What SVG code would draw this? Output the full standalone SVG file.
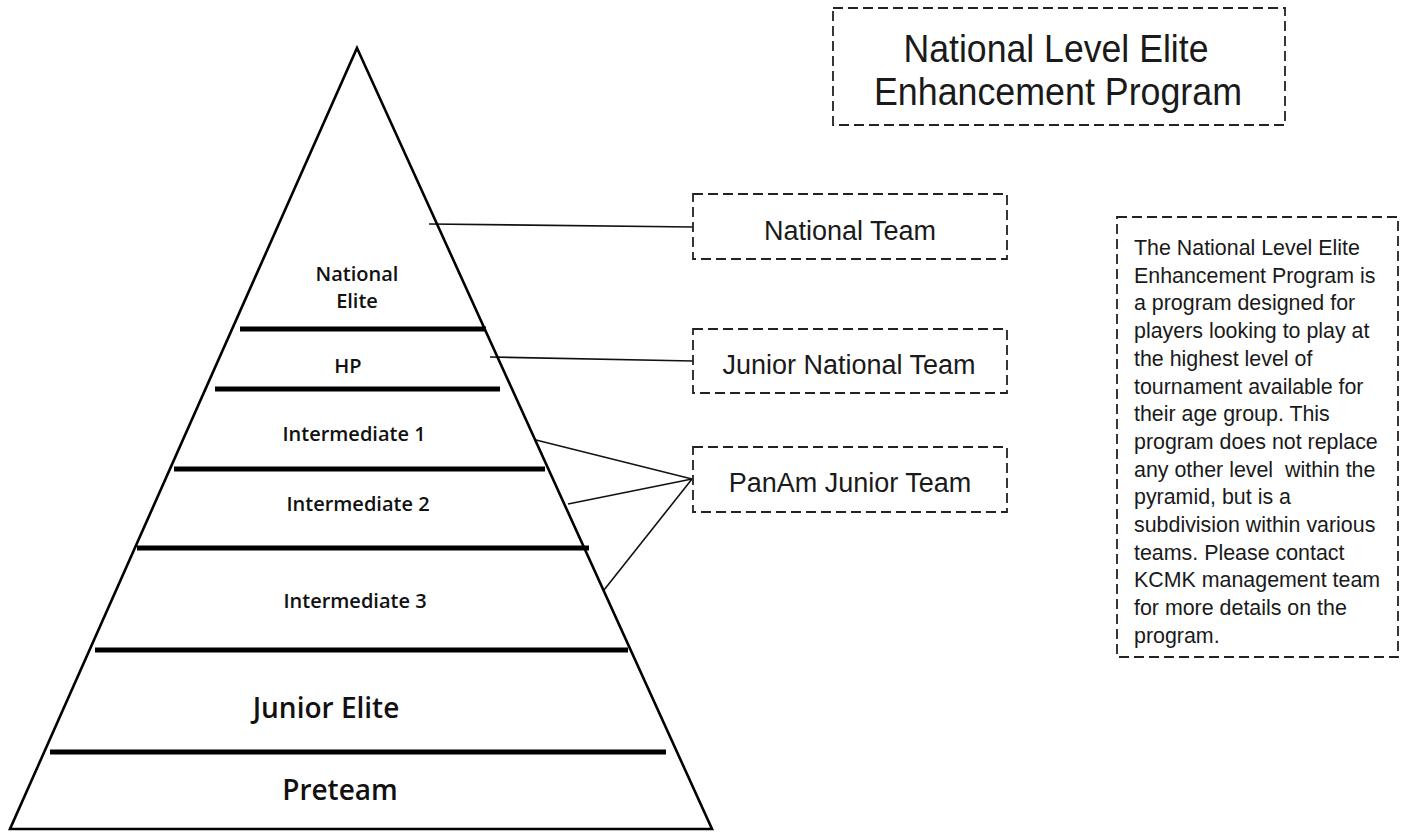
<svg xmlns="http://www.w3.org/2000/svg" width="1407" height="833" viewBox="0 0 1407 833">
<style>
.bg{fill:#fff}
.pyr{fill:none;stroke:#000;stroke-width:2.6;stroke-linejoin:miter}
.tier{stroke:#000;stroke-width:5;stroke-linecap:butt}
.conn{stroke:#111;stroke-width:1.6;fill:none}
.box{fill:#fff;stroke:#222;stroke-width:1.8;stroke-dasharray:10 5}
.lbl{font-family:"Open Sans","Noto Sans",sans-serif;font-weight:600;fill:#111;text-anchor:middle}
.box-t{font-family:"Liberation Sans",Arial,sans-serif;fill:#1a1a1a;text-anchor:middle}
.desc{font-family:"Liberation Sans",Arial,sans-serif;fill:#1a1a1a;font-size:21.4px}
</style>
<rect class="bg" x="0" y="0" width="1407" height="833"/>
<g id="connectors">
<line class="conn" x1="429" y1="224" x2="693" y2="227"/>
<line class="conn" x1="490" y1="357" x2="693" y2="361"/>
<line class="conn" x1="536" y1="440" x2="692" y2="479"/>
<line class="conn" x1="568" y1="504" x2="692" y2="479"/>
<line class="conn" x1="604" y1="590" x2="692" y2="479"/>
</g>
<g id="pyramid">
<polygon class="pyr" points="357,48 712,829 10,829"/>
<line class="tier" x1="240" y1="329" x2="486" y2="329"/>
<line class="tier" x1="215" y1="389" x2="500" y2="389"/>
<line class="tier" x1="174" y1="469" x2="545" y2="469"/>
<line class="tier" x1="137" y1="548" x2="589" y2="548"/>
<line class="tier" x1="95" y1="650" x2="628" y2="650"/>
<line class="tier" x1="50" y1="752" x2="666" y2="752"/>
</g>
<g id="tier-national-elite"><text class="lbl" font-size="20" x="357" y="281">National</text><text class="lbl" font-size="20" x="357" y="308">Elite</text></g>
<g id="tier-hp"><text class="lbl" font-size="20" x="348" y="373">HP</text></g>
<g id="tier-int1"><text class="lbl" font-size="20" x="354" y="441">Intermediate 1</text></g>
<g id="tier-int2"><text class="lbl" font-size="20" x="358" y="511">Intermediate 2</text></g>
<g id="tier-int3"><text class="lbl" font-size="20" x="355" y="608">Intermediate 3</text></g>
<g id="tier-junior-elite"><text class="lbl" font-size="28" x="326" y="718">Junior Elite</text></g>
<g id="tier-preteam"><text class="lbl" font-size="28" x="340" y="800">Preteam</text></g>
<g id="title">
<rect class="box" x="833" y="8" width="452" height="117"/>
<text class="box-t" font-size="38" x="1056" y="62" textLength="305" lengthAdjust="spacingAndGlyphs">National Level Elite</text>
<text class="box-t" font-size="38" x="1058" y="105" textLength="368" lengthAdjust="spacingAndGlyphs">Enhancement Program</text>
</g>
<g id="national-team">
<rect class="box" x="693" y="194" width="314" height="65"/>
<text class="box-t" font-size="27" x="850" y="240">National Team</text>
</g>
<g id="junior-national-team">
<rect class="box" x="693" y="329" width="314" height="64"/>
<text class="box-t" font-size="27" x="849" y="374">Junior National Team</text>
</g>
<g id="panam-junior-team">
<rect class="box" x="693" y="447" width="314" height="65"/>
<text class="box-t" font-size="27" x="850" y="492">PanAm Junior Team</text>
</g>
<g id="description">
<rect class="box" x="1117" y="217" width="281" height="440"/>
<text class="desc" x="1134">
<tspan x="1134" y="255">The National Level Elite</tspan>
<tspan x="1134" y="282.7">Enhancement Program is</tspan>
<tspan x="1134" y="310.4">a program designed for</tspan>
<tspan x="1134" y="338.1">players looking to play at</tspan>
<tspan x="1134" y="365.8">the highest level of</tspan>
<tspan x="1134" y="393.5">tournament available for</tspan>
<tspan x="1134" y="421.2">their age group. This</tspan>
<tspan x="1134" y="448.9">program does not replace</tspan>
<tspan x="1134" y="476.6" xml:space="preserve">any other level  within the</tspan>
<tspan x="1134" y="504.3">pyramid, but is a</tspan>
<tspan x="1134" y="532">subdivision within various</tspan>
<tspan x="1134" y="559.7">teams. Please contact</tspan>
<tspan x="1134" y="587.4">KCMK management team</tspan>
<tspan x="1134" y="615.1">for more details on the</tspan>
<tspan x="1134" y="642.8">program.</tspan>
</text>
</g>
</svg>
